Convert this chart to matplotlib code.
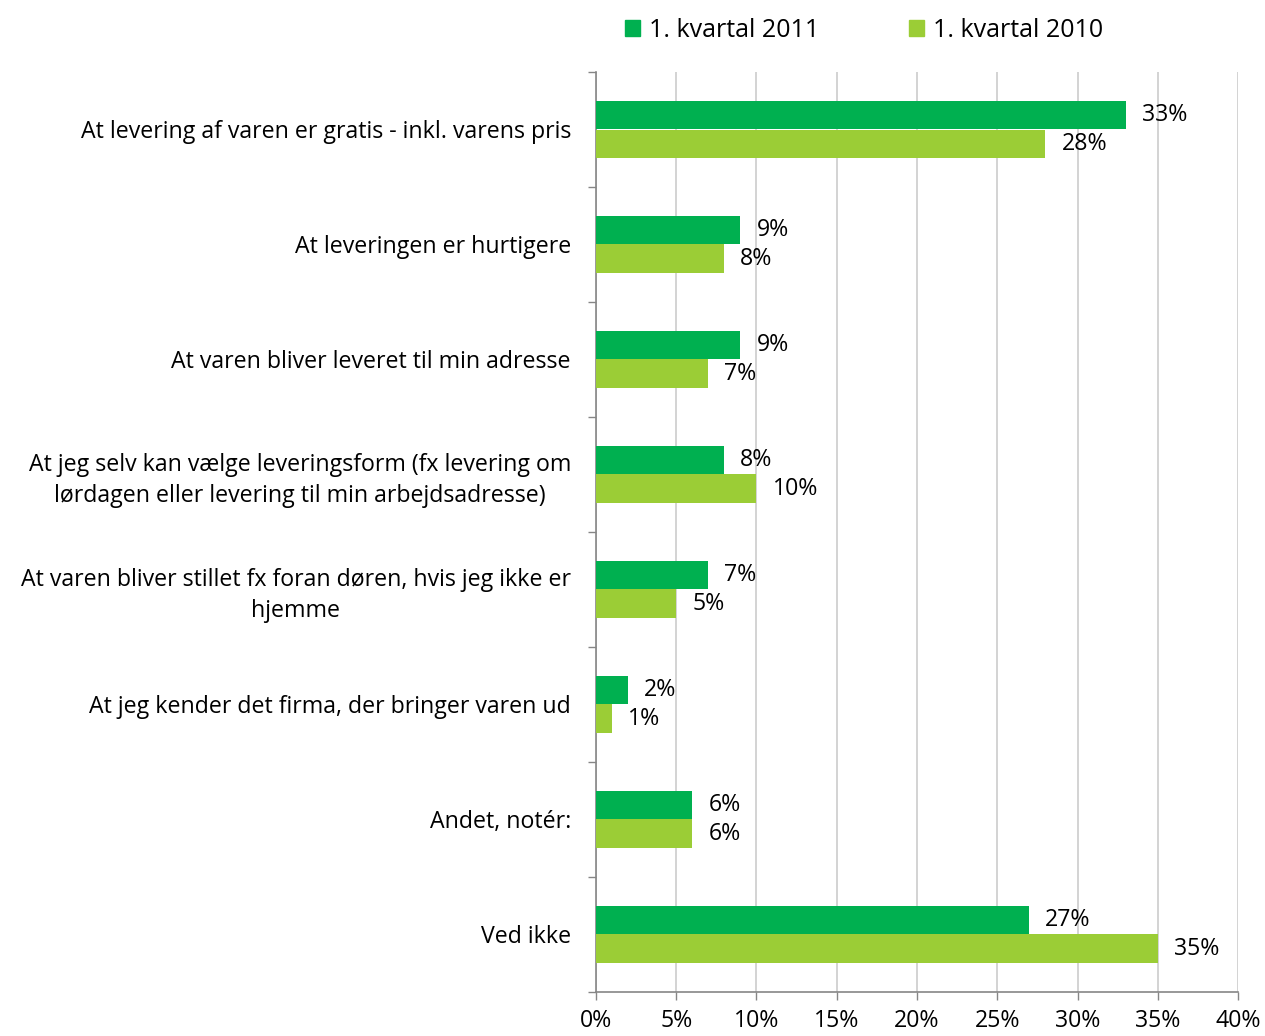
import matplotlib.pyplot as plt
from matplotlib.patches import Patch
from matplotlib.ticker import FixedLocator

plt.rcParams['font.family'] = ['Open Sans', 'DejaVu Sans']

categories = [
    "At levering af varen er gratis - inkl. varens pris",
    "At leveringen er hurtigere",
    "At varen bliver leveret til min adresse",
    "At jeg selv kan vælge leveringsform (fx levering om\nlørdagen eller levering til min arbejdsadresse)",
    "At varen bliver stillet fx foran døren, hvis jeg ikke er\nhjemme",
    "At jeg kender det firma, der bringer varen ud",
    "Andet, notér:",
    "Ved ikke",
]
q1_2011 = [33, 9, 9, 8, 7, 2, 6, 27]
q1_2010 = [28, 8, 7, 10, 5, 1, 6, 35]
series_names = ["1. kvartal 2011", "1. kvartal 2010"]
colors = ["#00B050", "#9BCD36"]

fs = 16.7

fig = plt.figure(figsize=(12.65, 10.36), dpi=100)
ax = fig.add_axes([0.4711, 0.0425, 0.5076, 0.888])

pos = list(range(len(categories)))
h = 0.245
b1 = ax.barh([p - h / 2 for p in pos], q1_2011, height=h, color=colors[0], zorder=3)
b2 = ax.barh([p + h / 2 for p in pos], q1_2010, height=h, color=colors[1], zorder=3)

# value labels outside the bar ends
for bars, vals in ((b1, q1_2011), (b2, q1_2010)):
    for bar, v in zip(bars, vals):
        ax.annotate(f"{v}%", (bar.get_width(), bar.get_y() + bar.get_height() / 2),
                    xytext=(16, 0), textcoords='offset pixels',
                    ha='left', va='center', fontsize=fs)

ax.set_xlim(0, 40)
ax.set_ylim(len(categories) - 0.5, -0.5)

ax.set_xticks(range(0, 41, 5))
ax.set_xticklabels([f"{t}%" for t in range(0, 41, 5)], fontsize=fs)
ax.tick_params(axis='x', length=6, width=1, color='#868686', pad=6)

# category boundaries as major ticks, names as minor ticks at the centre
ax.yaxis.set_major_locator(FixedLocator([p - 0.5 for p in range(len(categories) + 1)]))
ax.yaxis.set_minor_locator(FixedLocator(pos))
ax.set_yticklabels([], minor=False)
ax.set_yticklabels(categories, minor=True, fontsize=fs, linespacing=1.35,
                   multialignment='center')
ax.tick_params(axis='y', which='major', length=6, width=1, color='#868686')
ax.tick_params(axis='y', which='minor', length=0, pad=18)

ax.grid(axis='x', color='#D0D0D0', linewidth=1.3, zorder=0)
for s in ('top', 'right'):
    ax.spines[s].set_visible(False)
for s in ('left', 'bottom'):
    ax.spines[s].set_color('#868686')
    ax.spines[s].set_linewidth(1.2)

handles = [Patch(color=c) for c in colors]
fig.legend(handles, series_names, loc='center', bbox_to_anchor=(0.683, 0.971),
           ncol=2, frameon=False, fontsize=18, handlelength=0.6, handleheight=0.6,
           handletextpad=0.35, columnspacing=3.6)

fig.savefig("out.png", dpi=100)
